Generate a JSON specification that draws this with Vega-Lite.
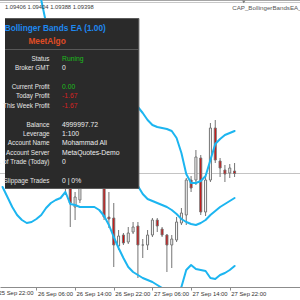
{
  "$schema": "https://vega.github.io/schema/vega-lite/v6.json",
  "width": 300,
  "height": 287,
  "autosize": {"type": "none"},
  "padding": {"left": 0, "top": 0, "right": 0, "bottom": 13},
  "background": "#ffffff",
  "config": {
    "view": {"stroke": null},
    "text": {"font": "Liberation Sans"},
    "axisX": {"labelFont": "Liberation Sans", "labelFontSize": 5.9, "labelColor": "#333333", "domainColor": "#8c8c8c", "tickColor": "#8c8c8c", "tickSize": 3, "labelPadding": 0, "labelAlign": "left", "labelOffset": 1, "labelFlush": false, "labelOverlap": false, "grid": false, "title": null}
  },
  "datasets": {
    "one": [{}],
    "candles": [
      {"h": 12, "dir": "up", "o": 1.09385, "c": 1.09395, "hi": 1.09405, "lo": 1.09355},
      {"h": 13, "dir": "down", "o": 1.09375, "c": 1.09339, "hi": 1.09385, "lo": 1.09291},
      {"h": 14, "dir": "up", "o": 1.09331, "c": 1.09351, "hi": 1.09361, "lo": 1.09305},
      {"h": 15, "dir": "up", "o": 1.09345, "c": 1.09369, "hi": 1.09379, "lo": 1.09339},
      {"h": 20, "dir": "down", "o": 1.09405, "c": 1.09311, "hi": 1.09425, "lo": 1.09305},
      {"h": 21, "dir": "down", "o": 1.09311, "c": 1.09307, "hi": 1.09361, "lo": 1.09289},
      {"h": 22, "dir": "down", "o": 1.09309, "c": 1.09255, "hi": 1.09339, "lo": 1.09211},
      {"h": 23, "dir": "up", "o": 1.09253, "c": 1.09273, "hi": 1.09285, "lo": 1.09245},
      {"h": 24, "dir": "down", "o": 1.09275, "c": 1.09259, "hi": 1.09279, "lo": 1.09255},
      {"h": 25, "dir": "up", "o": 1.09261, "c": 1.09279, "hi": 1.09291, "lo": 1.09257},
      {"h": 26, "dir": "up", "o": 1.09281, "c": 1.09291, "hi": 1.09301, "lo": 1.09277},
      {"h": 27, "dir": "down", "o": 1.09293, "c": 1.09255, "hi": 1.09301, "lo": 1.09189},
      {"h": 28, "dir": "down", "o": 1.09255, "c": 1.09255, "hi": 1.09267, "lo": 1.09229},
      {"h": 29, "dir": "up", "o": 1.09255, "c": 1.09275, "hi": 1.09285, "lo": 1.09245},
      {"h": 30, "dir": "up", "o": 1.09275, "c": 1.09305, "hi": 1.09309, "lo": 1.09271},
      {"h": 31, "dir": "down", "o": 1.09305, "c": 1.09293, "hi": 1.09309, "lo": 1.09281},
      {"h": 32, "dir": "down", "o": 1.09287, "c": 1.09275, "hi": 1.09291, "lo": 1.09271},
      {"h": 33, "dir": "down", "o": 1.09275, "c": 1.09255, "hi": 1.09277, "lo": 1.09201},
      {"h": 34, "dir": "up", "o": 1.09255, "c": 1.09267, "hi": 1.09275, "lo": 1.09209},
      {"h": 35, "dir": "up", "o": 1.09265, "c": 1.09301, "hi": 1.09311, "lo": 1.09261},
      {"h": 36, "dir": "up", "o": 1.09299, "c": 1.09319, "hi": 1.09329, "lo": 1.09295},
      {"h": 37, "dir": "up", "o": 1.09315, "c": 1.09385, "hi": 1.09389, "lo": 1.09295},
      {"h": 38, "dir": "down", "o": 1.09385, "c": 1.09369, "hi": 1.09393, "lo": 1.09361},
      {"h": 39, "dir": "up", "o": 1.09385, "c": 1.09431, "hi": 1.09445, "lo": 1.09375},
      {"h": 40, "dir": "down", "o": 1.09429, "c": 1.09321, "hi": 1.09435, "lo": 1.09315},
      {"h": 41, "dir": "up", "o": 1.09321, "c": 1.09385, "hi": 1.09393, "lo": 1.09313},
      {"h": 42, "dir": "up", "o": 1.09385, "c": 1.09489, "hi": 1.09499, "lo": 1.09381},
      {"h": 43, "dir": "down", "o": 1.09489, "c": 1.09425, "hi": 1.09505, "lo": 1.09419},
      {"h": 44, "dir": "down", "o": 1.09423, "c": 1.09409, "hi": 1.09429, "lo": 1.09391},
      {"h": 45, "dir": "down", "o": 1.09405, "c": 1.09397, "hi": 1.09415, "lo": 1.09381},
      {"h": 46, "dir": "up", "o": 1.09399, "c": 1.09409, "hi": 1.09417, "lo": 1.09389},
      {"h": 47, "dir": "down", "o": 1.09403, "c": 1.09398, "hi": 1.09419, "lo": 1.09391}
    ],
    "bands": [
      {"band": "upper", "h": 5, "p": 1.09825},
      {"band": "upper", "h": 6, "p": 1.09785},
      {"band": "upper", "h": 7, "p": 1.09745},
      {"band": "upper", "h": 8, "p": 1.09699},
      {"band": "upper", "h": 27, "p": 1.09531},
      {"band": "upper", "h": 28, "p": 1.09519},
      {"band": "upper", "h": 29, "p": 1.09505},
      {"band": "upper", "h": 30, "p": 1.09495},
      {"band": "upper", "h": 31, "p": 1.09491},
      {"band": "upper", "h": 32, "p": 1.09489},
      {"band": "upper", "h": 33, "p": 1.09487},
      {"band": "upper", "h": 34, "p": 1.09483},
      {"band": "upper", "h": 35, "p": 1.09469},
      {"band": "upper", "h": 36, "p": 1.09439},
      {"band": "upper", "h": 37, "p": 1.09397},
      {"band": "upper", "h": 38, "p": 1.09379},
      {"band": "upper", "h": 39, "p": 1.09379},
      {"band": "upper", "h": 40, "p": 1.09383},
      {"band": "upper", "h": 41, "p": 1.09393},
      {"band": "upper", "h": 42, "p": 1.09425},
      {"band": "upper", "h": 43, "p": 1.09457},
      {"band": "upper", "h": 44, "p": 1.09467},
      {"band": "upper", "h": 45, "p": 1.09475},
      {"band": "upper", "h": 46, "p": 1.09479},
      {"band": "upper", "h": 47, "p": 1.09483},
      {"band": "middle", "h": 25, "p": 1.09405},
      {"band": "middle", "h": 26, "p": 1.09389},
      {"band": "middle", "h": 27, "p": 1.09373},
      {"band": "middle", "h": 28, "p": 1.09357},
      {"band": "middle", "h": 29, "p": 1.09347},
      {"band": "middle", "h": 30, "p": 1.09343},
      {"band": "middle", "h": 31, "p": 1.09339},
      {"band": "middle", "h": 32, "p": 1.09335},
      {"band": "middle", "h": 33, "p": 1.09331},
      {"band": "middle", "h": 34, "p": 1.09325},
      {"band": "middle", "h": 35, "p": 1.09317},
      {"band": "middle", "h": 36, "p": 1.09307},
      {"band": "middle", "h": 37, "p": 1.09301},
      {"band": "middle", "h": 38, "p": 1.09297},
      {"band": "middle", "h": 39, "p": 1.09295},
      {"band": "middle", "h": 40, "p": 1.09299},
      {"band": "middle", "h": 41, "p": 1.09305},
      {"band": "middle", "h": 42, "p": 1.09315},
      {"band": "middle", "h": 43, "p": 1.09323},
      {"band": "middle", "h": 44, "p": 1.09331},
      {"band": "middle", "h": 45, "p": 1.09337},
      {"band": "middle", "h": 46, "p": 1.09343},
      {"band": "middle", "h": 47, "p": 1.09349},
      {"band": "lower", "h": -1, "p": 1.09371},
      {"band": "lower", "h": 0, "p": 1.09351},
      {"band": "lower", "h": 1, "p": 1.09331},
      {"band": "lower", "h": 2, "p": 1.09315},
      {"band": "lower", "h": 3, "p": 1.09305},
      {"band": "lower", "h": 4, "p": 1.09299},
      {"band": "lower", "h": 5, "p": 1.09301},
      {"band": "lower", "h": 6, "p": 1.09307},
      {"band": "lower", "h": 7, "p": 1.09315},
      {"band": "lower", "h": 8, "p": 1.09329},
      {"band": "lower", "h": 9, "p": 1.09339},
      {"band": "lower", "h": 10, "p": 1.09345},
      {"band": "lower", "h": 11, "p": 1.09349},
      {"band": "lower", "h": 12, "p": 1.09361},
      {"band": "lower", "h": 13, "p": 1.09337},
      {"band": "lower", "h": 14, "p": 1.09335},
      {"band": "lower", "h": 15, "p": 1.09331},
      {"band": "lower", "h": 16, "p": 1.09331},
      {"band": "lower", "h": 17, "p": 1.09331},
      {"band": "lower", "h": 18, "p": 1.09331},
      {"band": "lower", "h": 19, "p": 1.09325},
      {"band": "lower", "h": 20, "p": 1.09313},
      {"band": "lower", "h": 21, "p": 1.09295},
      {"band": "lower", "h": 22, "p": 1.09271},
      {"band": "lower", "h": 23, "p": 1.09249},
      {"band": "lower", "h": 24, "p": 1.09229},
      {"band": "lower", "h": 25, "p": 1.09211},
      {"band": "lower", "h": 26, "p": 1.09201},
      {"band": "lower", "h": 27, "p": 1.09195},
      {"band": "lower", "h": 28, "p": 1.09189},
      {"band": "lower", "h": 29, "p": 1.09185},
      {"band": "lower", "h": 30, "p": 1.09181},
      {"band": "lower", "h": 31, "p": 1.09175},
      {"band": "lower", "h": 32, "p": 1.09169},
      {"band": "lower", "h": 33, "p": 1.09165},
      {"band": "lower", "h": 34, "p": 1.09157},
      {"band": "lower", "h": 35, "p": 1.09159},
      {"band": "lower", "h": 36, "p": 1.09171},
      {"band": "lower", "h": 37, "p": 1.09205},
      {"band": "lower", "h": 38, "p": 1.09215},
      {"band": "lower", "h": 39, "p": 1.09207},
      {"band": "lower", "h": 40, "p": 1.09205},
      {"band": "lower", "h": 41, "p": 1.09203},
      {"band": "lower", "h": 42, "p": 1.09189},
      {"band": "lower", "h": 43, "p": 1.09187},
      {"band": "lower", "h": 44, "p": 1.09195},
      {"band": "lower", "h": 45, "p": 1.09199},
      {"band": "lower", "h": 46, "p": 1.09205},
      {"band": "lower", "h": 47, "p": 1.09213}
    ],
    "info": [
      {"line": 1, "label": "Status", "value": "Runing", "tone": "pos"},
      {"line": 2, "label": "Broker GMT", "value": "0", "tone": "neutral"},
      {"line": 4, "label": "Current Profit", "value": "0.00", "tone": "pos"},
      {"line": 5, "label": "Today Profit", "value": "-1.67", "tone": "neg"},
      {"line": 6, "label": "This Week Profit", "value": "-1.67", "tone": "neg"},
      {"line": 8, "label": "Balance", "value": "4999997.72", "tone": "neutral"},
      {"line": 9, "label": "Leverage", "value": "1:100", "tone": "neutral"},
      {"line": 10, "label": "Account Name", "value": "Mohammad Ali", "tone": "neutral"},
      {"line": 11, "label": "Account Server", "value": "MetaQuotes-Demo", "tone": "neutral"},
      {"line": 12, "label": "No. of Trade (Today)", "value": "0", "tone": "neutral"},
      {"line": 14, "label": "Slippage Trades", "value": "0 | 0%", "tone": "neutral"}
    ]
  },
  "resolve": {"scale": {"y": "independent", "color": "independent", "fill": "independent"}},
  "layer": [
    {
      "layer": [
        {
          "data": {"name": "one"},
          "mark": {"type": "rule", "color": "#c4c4c4", "strokeWidth": 1},
          "encoding": {
            "y": {"datum": 1.09398, "type": "quantitative", "scale": {"domain": [1.09171, 1.09745], "nice": false, "zero": false}, "axis": null}
          }
        },
        {
          "data": {"name": "one"},
          "mark": {"type": "rule", "color": "#a6a6a6", "strokeWidth": 1},
          "encoding": {
            "y": {"datum": 1.09744, "type": "quantitative", "scale": {"domain": [1.09171, 1.09745], "nice": false, "zero": false}, "axis": null}
          }
        },
        {
          "data": {"name": "one"},
          "mark": {"type": "rule", "color": "#c8c8c8", "strokeWidth": 1},
          "encoding": {
            "y": {"datum": 1.0974, "type": "quantitative", "scale": {"domain": [1.09171, 1.09745], "nice": false, "zero": false}, "axis": null}
          }
        },
        {
          "data": {"name": "candles"},
          "mark": {"type": "rule", "color": "#747474", "strokeWidth": 1, "clip": true},
          "encoding": {
            "x": {"field": "h", "type": "quantitative", "scale": {"domain": [-0.5, 59.5], "nice": false, "zero": false}},
            "y": {"field": "lo", "type": "quantitative", "scale": {"domain": [1.09171, 1.09745], "nice": false, "zero": false}, "axis": null},
            "y2": {"field": "hi"}
          }
        },
        {
          "data": {"name": "candles"},
          "mark": {"type": "bar", "width": 2, "stroke": "#747474", "strokeWidth": 1, "orient": "vertical", "clip": true},
          "encoding": {
            "x": {"field": "h", "type": "quantitative", "scale": {"domain": [-0.5, 59.5], "nice": false, "zero": false},
              "axis": {"values": [6, 14, 22, 30, 38, 46], "labelExpr": "(datum.value < 24 ? '26' : '27') + ' Sep ' + ((datum.value % 24) < 10 ? '0' : '') + (datum.value % 24) + ':00'", "title": null, "orient": "bottom"}},
            "y": {"field": "o", "type": "quantitative", "scale": {"domain": [1.09171, 1.09745], "nice": false, "zero": false}, "axis": null},
            "y2": {"field": "c"},
            "fill": {"field": "dir", "type": "nominal", "scale": {"domain": ["up", "down"], "range": ["#ffffff", "#e00000"]}, "legend": null}
          }
        },
        {
          "data": {"name": "bands"},
          "mark": {"type": "line", "color": "#1cb5f0", "strokeWidth": 2, "clip": true, "strokeJoin": "round", "strokeCap": "round"},
          "encoding": {
            "x": {"field": "h", "type": "quantitative", "scale": {"domain": [-0.5, 59.5], "nice": false, "zero": false}},
            "y": {"field": "p", "type": "quantitative", "scale": {"domain": [1.09171, 1.09745], "nice": false, "zero": false}, "axis": null},
            "detail": {"field": "band", "type": "nominal"}
          }
        },
        {
          "data": {"name": "one"},
          "mark": {"type": "text", "text": "25 Sep 22:00", "align": "left", "baseline": "top", "dx": -6.5, "fontSize": 5.9, "color": "#333333"},
          "encoding": {
            "x": {"datum": -0.5, "type": "quantitative", "scale": {"domain": [-0.5, 59.5], "nice": false, "zero": false}},
            "y": {"datum": 1.09165, "type": "quantitative", "scale": {"domain": [1.09171, 1.09745], "nice": false, "zero": false}, "axis": null}
          }
        },
        {
          "data": {"name": "one"},
          "mark": {"type": "text", "text": "1.09406 1.09404 1.09388 1.09398", "align": "left", "baseline": "middle", "fontSize": 5.8, "color": "#3a3a3a"},
          "encoding": {
            "x": {"datum": -0.5, "type": "quantitative", "scale": {"domain": [-0.5, 59.5], "nice": false, "zero": false}},
            "y": {"datum": 1.09732, "type": "quantitative", "scale": {"domain": [1.09171, 1.09745], "nice": false, "zero": false}, "axis": null}
          }
        },
        {
          "data": {"name": "one"},
          "mark": {"type": "text", "text": "CAP_BollingerBandsEA_MT4", "align": "left", "baseline": "middle", "fontSize": 6.2, "color": "#555555"},
          "encoding": {
            "x": {"datum": 46.5, "type": "quantitative", "scale": {"domain": [-0.5, 59.5], "nice": false, "zero": false}},
            "y": {"datum": 1.0973, "type": "quantitative", "scale": {"domain": [1.09171, 1.09745], "nice": false, "zero": false}, "axis": null}
          }
        },
        {
          "data": {"name": "one"},
          "mark": {"type": "point", "shape": "triangle-down", "size": 10, "filled": true, "color": "#444444"},
          "encoding": {
            "x": {"datum": 48.9, "type": "quantitative", "scale": {"domain": [-0.5, 59.5], "nice": false, "zero": false}},
            "y": {"datum": 1.09741, "type": "quantitative", "scale": {"domain": [1.09171, 1.09745], "nice": false, "zero": false}, "axis": null}
          }
        }
      ]
    },
    {
      "layer": [
        {
          "data": {"name": "one"},
          "mark": {"type": "rect", "fill": "#2a2a2a"},
          "encoding": {
            "x": {"datum": -0.5, "type": "quantitative", "scale": {"domain": [-0.5, 59.5], "nice": false, "zero": false}},
            "x2": {"datum": 27.2},
            "y": {"datum": -3.3, "type": "quantitative", "scale": {"domain": [-3.3, 14.8], "range": [18.5, 188.5], "nice": false, "zero": false}, "axis": null},
            "y2": {"datum": 14.8}
          }
        },
        {
          "data": {"name": "one"},
          "mark": {"type": "rule", "color": "#5a5a5a", "strokeWidth": 1},
          "encoding": {
            "x": {"datum": -0.5, "type": "quantitative", "scale": {"domain": [-0.5, 59.5], "nice": false, "zero": false}},
            "x2": {"datum": 27.2},
            "y": {"datum": 0, "type": "quantitative", "scale": {"domain": [-3.3, 14.8], "range": [18.5, 188.5], "nice": false, "zero": false}, "axis": null}
          }
        },
        {
          "data": {"name": "one"},
          "mark": {"type": "rule", "color": "#5a5a5a", "strokeWidth": 1},
          "encoding": {
            "x": {"datum": -0.5, "type": "quantitative", "scale": {"domain": [-0.5, 59.5], "nice": false, "zero": false}},
            "x2": {"datum": 27.2},
            "y": {"datum": -3.3, "type": "quantitative", "scale": {"domain": [-3.3, 14.8], "range": [18.5, 188.5], "nice": false, "zero": false}, "axis": null}
          }
        },
        {
          "data": {"name": "one"},
          "mark": {"type": "rule", "color": "#5a5a5a", "strokeWidth": 1},
          "encoding": {
            "x": {"datum": -0.5, "type": "quantitative", "scale": {"domain": [-0.5, 59.5], "nice": false, "zero": false}},
            "x2": {"datum": 27.2},
            "y": {"datum": 14.8, "type": "quantitative", "scale": {"domain": [-3.3, 14.8], "range": [18.5, 188.5], "nice": false, "zero": false}, "axis": null}
          }
        },
        {
          "data": {"name": "one"},
          "mark": {"type": "rule", "color": "#5a5a5a", "strokeWidth": 1},
          "encoding": {
            "x": {"datum": 27.2, "type": "quantitative", "scale": {"domain": [-0.5, 59.5], "nice": false, "zero": false}},
            "y": {"datum": -3.3, "type": "quantitative", "scale": {"domain": [-3.3, 14.8], "range": [18.5, 188.5], "nice": false, "zero": false}, "axis": null},
            "y2": {"datum": 14.8}
          }
        },
        {
          "data": {"name": "one"},
          "mark": {"type": "text", "text": "Bollinger Bands EA (1.00)", "align": "center", "baseline": "middle", "fontSize": 8.3, "fontWeight": "bold", "color": "#1e88f0"},
          "encoding": {
            "x": {"datum": 9.9, "type": "quantitative", "scale": {"domain": [-0.5, 59.5], "nice": false, "zero": false}},
            "y": {"datum": -2.2, "type": "quantitative", "scale": {"domain": [-3.3, 14.8], "range": [18.5, 188.5], "nice": false, "zero": false}, "axis": null}
          }
        },
        {
          "data": {"name": "one"},
          "mark": {"type": "text", "text": "MeetAlgo", "align": "center", "baseline": "middle", "fontSize": 8.3, "fontWeight": "bold", "color": "#e04c24"},
          "encoding": {
            "x": {"datum": 8.2, "type": "quantitative", "scale": {"domain": [-0.5, 59.5], "nice": false, "zero": false}},
            "y": {"datum": -0.8, "type": "quantitative", "scale": {"domain": [-3.3, 14.8], "range": [18.5, 188.5], "nice": false, "zero": false}, "axis": null}
          }
        },
        {
          "data": {"name": "info"},
          "mark": {"type": "text", "align": "right", "baseline": "middle", "fontSize": 6.35, "color": "#e6e6e6"},
          "encoding": {
            "x": {"datum": 8.7, "type": "quantitative", "scale": {"domain": [-0.5, 59.5], "nice": false, "zero": false}},
            "y": {"field": "line", "type": "quantitative", "scale": {"domain": [-3.3, 14.8], "range": [18.5, 188.5], "nice": false, "zero": false}, "axis": null},
            "text": {"field": "label"}
          }
        },
        {
          "data": {"name": "info"},
          "mark": {"type": "text", "align": "left", "baseline": "middle", "fontSize": 6.8},
          "encoding": {
            "x": {"datum": 11.3, "type": "quantitative", "scale": {"domain": [-0.5, 59.5], "nice": false, "zero": false}},
            "y": {"field": "line", "type": "quantitative", "scale": {"domain": [-3.3, 14.8], "range": [18.5, 188.5], "nice": false, "zero": false}, "axis": null},
            "text": {"field": "value"},
            "color": {"field": "tone", "type": "nominal", "scale": {"domain": ["pos", "neg", "neutral"], "range": ["#1cbf1c", "#d62222", "#eeeeee"]}, "legend": null}
          }
        }
      ]
    }
  ]
}
